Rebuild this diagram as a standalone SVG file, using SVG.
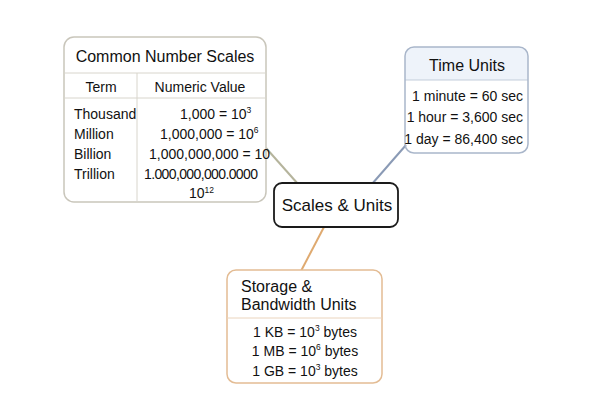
<svg xmlns="http://www.w3.org/2000/svg" width="612" height="408" viewBox="0 0 612 408">
<style>
text{font-family:"Liberation Sans",Arial,sans-serif;fill:#111}
.h{font-size:16px}
.b{font-size:14px}
.sup{font-size:8.5px}
</style>
<rect width="612" height="408" fill="#fff"/>
<g id="connectors" stroke-width="2" fill="none">
<line x1="266" y1="148" x2="298" y2="184" stroke="#b5b49c"/>
<line x1="406" y1="145" x2="372" y2="184" stroke="#8a9ab5"/>
<line x1="324" y1="227" x2="301" y2="271" stroke="#dfaa70"/>
</g>
<g id="number-scales">
<rect x="64" y="37" width="202" height="165" rx="10" fill="#fff" stroke="#c9c6bb" stroke-width="1.5"/>
<path d="M65 73H265M65 98H265M137 73V201" stroke="#d8d5cc" stroke-width="1"/>
<text class="h" x="165" y="62" text-anchor="middle">Common Number Scales</text>
<text class="b" x="101" y="92" text-anchor="middle">Term</text>
<text class="b" x="200" y="92" text-anchor="middle">Numeric Value</text>
<text class="b" x="74" y="119">Thousand</text>
<text class="b" x="74" y="139">Million</text>
<text class="b" x="74" y="159">Billion</text>
<text class="b" x="74" y="179">Trillion</text>
<text class="b" x="180" y="119">1,000 = 10<tspan class="sup" dy="-6">3</tspan></text>
<text class="b" x="160" y="139">1,000,000 = 10<tspan class="sup" dy="-6">6</tspan></text>
<text class="b" x="149" y="159">1,000,000,000 = 10</text>
<text class="b" x="144" y="179" textLength="114">1.000,000,000.0000</text>
<text class="b" x="189" y="198">10<tspan class="sup" dy="-5">12</tspan></text>
</g>
<g id="time-units">
<path d="M414 47H519A9 9 0 0 1 528 56V80H405V56A9 9 0 0 1 414 47Z" fill="#eef3fa"/>
<line x1="405" y1="80" x2="528" y2="80" stroke="#c3cddb"/>
<rect x="405" y="47" width="123" height="106" rx="9" fill="none" stroke="#a9b6ca" stroke-width="1.5"/>
<text class="h" x="467" y="71" text-anchor="middle">Time Units</text>
<text class="b" x="523" y="101" text-anchor="end">1 minute = 60 sec</text>
<text class="b" x="523" y="122" text-anchor="end">1 hour = 3,600 sec</text>
<text class="b" x="523" y="144" text-anchor="end">1 day = 86,400 sec</text>
</g>
<g id="center">
<rect x="274" y="183" width="124" height="44" rx="8" fill="#fff" stroke="#1a1a1a" stroke-width="1.8"/>
<text x="337" y="211" text-anchor="middle" style="font-size:17px">Scales &amp; Units</text>
</g>
<g id="storage">
<rect x="227" y="270" width="155" height="113" rx="9" fill="#fff" stroke="#e3bc94" stroke-width="1.5"/>
<line x1="227" y1="318" x2="382" y2="318" stroke="#ead4bd"/>
<text class="h" x="241" y="292">Storage &amp;</text>
<text class="h" x="241" y="310">Bandwidth Units</text>
<text class="b" x="305" y="337" text-anchor="middle">1 KB = 10<tspan class="sup" dy="-6">3</tspan><tspan dy="6"> bytes</tspan></text>
<text class="b" x="305" y="356" text-anchor="middle">1 MB = 10<tspan class="sup" dy="-6">6</tspan><tspan dy="6"> bytes</tspan></text>
<text class="b" x="305" y="376" text-anchor="middle">1 GB = 10<tspan class="sup" dy="-6">3</tspan><tspan dy="6"> bytes</tspan></text>
</g>
</svg>
